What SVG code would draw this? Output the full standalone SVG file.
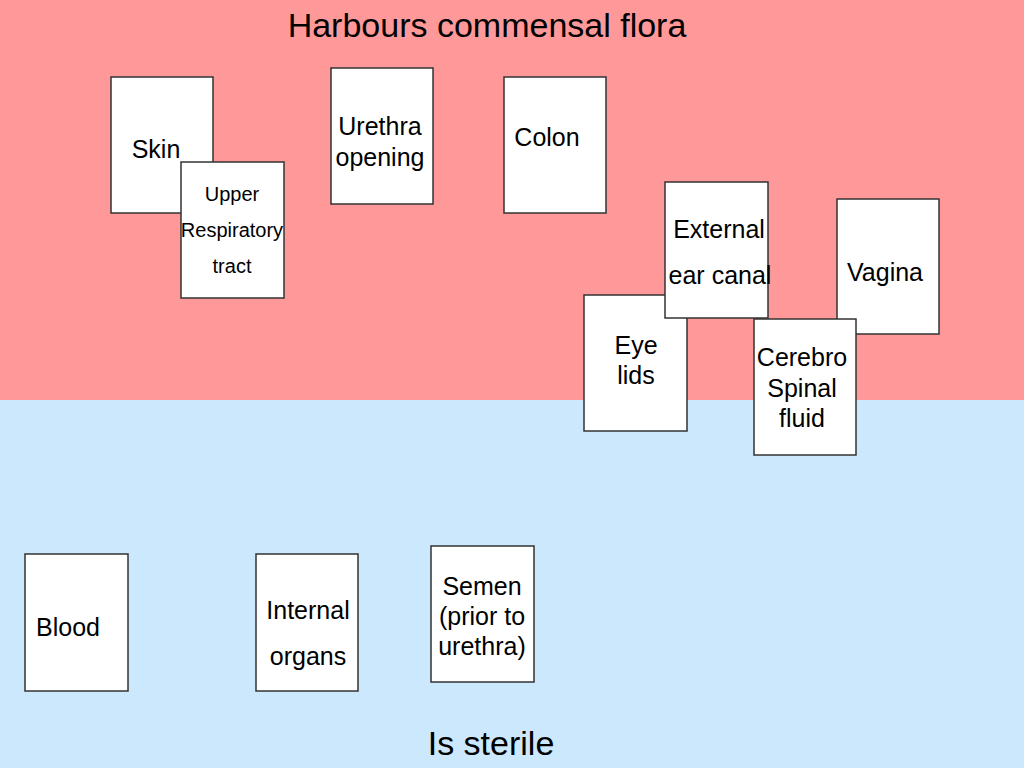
<svg xmlns="http://www.w3.org/2000/svg" width="1024" height="768" viewBox="0 0 1024 768">
<style>
.box{fill:#ffffff;stroke:#333333;stroke-width:1.5}
text{font-family:"Liberation Sans",Arial,sans-serif;fill:#000000}
.t{font-size:25px;text-anchor:middle}
.s{font-size:20px;text-anchor:middle}
.h{font-size:34px;text-anchor:middle}
</style>
<rect x="0" y="0" width="1024" height="400" fill="#ff9999"/>
<rect x="0" y="400" width="1024" height="368" fill="#cce8fc"/>
<text class="h" x="487" y="37">Harbours commensal flora</text>
<text class="h" x="491" y="755">Is sterile</text>
<g id="connectors"></g>
<g id="skin"><rect class="box" x="111" y="77" width="102" height="136"/><text class="t" x="156" y="158">Skin</text></g>
<g id="upper-respiratory"><rect class="box" x="181" y="162" width="103" height="136"/><text class="s" x="232" y="201">Upper</text><text class="s" x="232" y="237">Respiratory</text><text class="s" x="232" y="273">tract</text></g>
<g id="urethra"><rect class="box" x="331" y="68" width="102" height="136"/><text class="t" x="380" y="135">Urethra</text><text class="t" x="380" y="166">opening</text></g>
<g id="colon"><rect class="box" x="504" y="77" width="102" height="136"/><text class="t" x="547" y="146">Colon</text></g>
<g id="eye-lids"><rect class="box" x="584" y="295" width="103" height="136"/><text class="t" x="636" y="354">Eye</text><text class="t" x="636" y="384">lids</text></g>
<g id="external-ear"><rect class="box" x="665" y="182" width="103" height="136"/><text class="t" x="719" y="238">External</text><text class="t" x="720" y="284">ear canal</text></g>
<g id="vagina"><rect class="box" x="837" y="199" width="102" height="135"/><text class="t" x="885" y="281">Vagina</text></g>
<g id="csf"><rect class="box" x="754" y="319" width="102" height="136"/><text class="t" x="802" y="366">Cerebro</text><text class="t" x="802" y="397">Spinal</text><text class="t" x="802" y="427">fluid</text></g>
<g id="blood"><rect class="box" x="25" y="554" width="103" height="137"/><text class="t" x="68" y="636">Blood</text></g>
<g id="internal-organs"><rect class="box" x="256" y="554" width="102" height="137"/><text class="t" x="308" y="619">Internal</text><text class="t" x="308" y="665">organs</text></g>
<g id="semen"><rect class="box" x="431" y="546" width="103" height="136"/><text class="t" x="482" y="595">Semen</text><text class="t" x="482" y="625">(prior to</text><text class="t" x="482" y="655">urethra)</text></g>
</svg>
